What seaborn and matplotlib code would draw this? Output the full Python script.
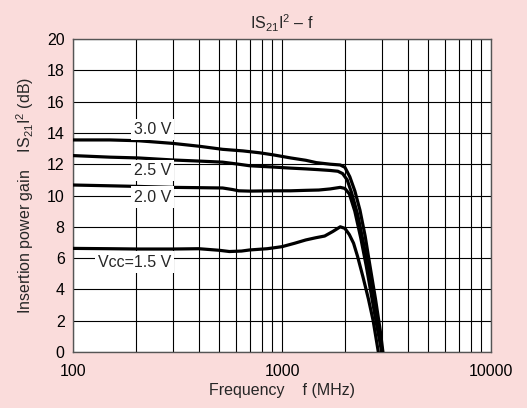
import numpy as np
import pandas as pd
import matplotlib
matplotlib.use("Agg")
import matplotlib.pyplot as plt
import seaborn as sns
from matplotlib.ticker import FixedLocator, NullFormatter, FixedFormatter

# ---- data ----
freq_30 = [100, 150, 205, 300, 400, 520, 650, 780, 905, 1100, 1300, 1460, 1700, 1900, 2000, 2110, 2230, 2360, 2500, 2640, 2800, 2950, 3040]
gain_30 = [13.55, 13.55, 13.5, 13.33, 13.15, 12.95, 12.85, 12.73, 12.6, 12.4, 12.25, 12.1, 12.0, 11.95, 11.8, 11.2, 10.3, 9.07, 7.4, 5.45, 3.4, 1.4, 0.0]

freq_25 = [100, 150, 205, 300, 400, 520, 620, 700, 905, 1100, 1300, 1500, 1700, 1850, 1950, 2050, 2150, 2300, 2450, 2600, 2750, 2900, 3020]
gain_25 = [12.55, 12.45, 12.4, 12.27, 12.2, 12.13, 12.0, 11.9, 11.82, 11.75, 11.7, 11.65, 11.6, 11.55, 11.4, 11.0, 10.2, 8.8, 7.0, 5.2, 3.3, 1.5, 0.0]

freq_20 = [100, 150, 205, 300, 400, 520, 580, 620, 700, 905, 1100, 1300, 1500, 1700, 1900, 2000, 2100, 2230, 2380, 2530, 2680, 2840, 3000]
gain_20 = [10.67, 10.62, 10.58, 10.52, 10.5, 10.48, 10.38, 10.3, 10.28, 10.3, 10.3, 10.33, 10.35, 10.42, 10.52, 10.45, 10.1, 9.0, 7.3, 5.5, 3.6, 1.7, 0.0]

freq_15 = [100, 150, 205, 300, 400, 500, 560, 640, 700, 850, 1000, 1150, 1300, 1450, 1600, 1750, 1900, 2000, 2100, 2200, 2300, 2440, 2590, 2730, 2890]
gain_15 = [6.62, 6.6, 6.58, 6.58, 6.6, 6.5, 6.42, 6.45, 6.52, 6.6, 6.73, 6.95, 7.16, 7.3, 7.41, 7.7, 8.0, 7.9, 7.5, 6.95, 6.1, 4.8, 3.4, 2.0, 0.0]

series_labels = ["3.0 V", "2.5 V", "2.0 V", "Vcc=1.5 V"]
label_gain = [14.2, 11.6, 9.9, 5.75]

x_ticks = [100, 1000, 10000]
x_tick_labels = ["100", "1000", "10000"]
y_ticks = [0, 2, 4, 6, 8, 10, 12, 14, 16, 18, 20]

df = pd.concat([
    pd.DataFrame({"freq": freq_30, "gain": gain_30, "v": series_labels[0]}),
    pd.DataFrame({"freq": freq_25, "gain": gain_25, "v": series_labels[1]}),
    pd.DataFrame({"freq": freq_20, "gain": gain_20, "v": series_labels[2]}),
    pd.DataFrame({"freq": freq_15, "gain": gain_15, "v": series_labels[3]}),
])

sns.set_style("white")
plt.rcParams["font.family"] = ["Liberation Sans", "DejaVu Sans"]
plt.rcParams["mathtext.fontset"] = "custom"
plt.rcParams["mathtext.rm"] = "Liberation Sans"
plt.rcParams["mathtext.it"] = "Liberation Sans"

FS = 11.5
bg = "#fadcdb"
fig = plt.figure(figsize=(5.27, 4.08), dpi=100, facecolor=bg)
ax = fig.add_axes([73/527, 1-352/408, (491-73)/527, (352-39)/408])
ax.set_facecolor("white")

ax.set_xscale("log")
ax.set_xlim(100, 10000)
ax.set_ylim(0, 20)

# grid
minor = [m * d for d in (100, 1000) for m in range(2, 10)]
ax.xaxis.set_major_locator(FixedLocator(x_ticks))
ax.xaxis.set_major_formatter(FixedFormatter(x_tick_labels))
ax.xaxis.set_minor_locator(FixedLocator(minor))
ax.xaxis.set_minor_formatter(NullFormatter())
ax.yaxis.set_major_locator(FixedLocator(y_ticks))
ax.grid(True, which="both", axis="x", color="black", linewidth=0.8)
ax.grid(True, which="major", axis="y", color="black", linewidth=0.8)
ax.set_axisbelow(True)
ax.tick_params(axis="x", which="both", length=0, labelsize=FS, colors="black", pad=9)
ax.tick_params(axis="y", which="both", length=0, labelsize=FS, colors="black", pad=6)

sns.lineplot(data=df, x="freq", y="gain", units="v", estimator=None,
             color="black", linewidth=2.3, ax=ax, legend=False, sort=False, zorder=3)

for lab, g in zip(series_labels, label_gain):
    ax.text(295, g, lab, ha="right", va="center", fontsize=FS, zorder=4,
            bbox=dict(facecolor="white", edgecolor="none", boxstyle="square,pad=0.2"))

for s in ax.spines.values():
    s.set_color("#555555")
    s.set_linewidth(1.0)

ax.set_xlabel("")
fig.text(282/527, 1-391/408, "Frequency    f (MHz)", fontsize=FS, ha="center", va="center")
ax.set_ylabel(r"Insertion power gain    IS$_{21}$I$^2$ (dB)", fontsize=FS, labelpad=8)
ax.set_title(r"IS$_{21}$I$^2$ – f", fontsize=FS, pad=7)

fig.savefig("out.png", dpi=100, facecolor=bg)
